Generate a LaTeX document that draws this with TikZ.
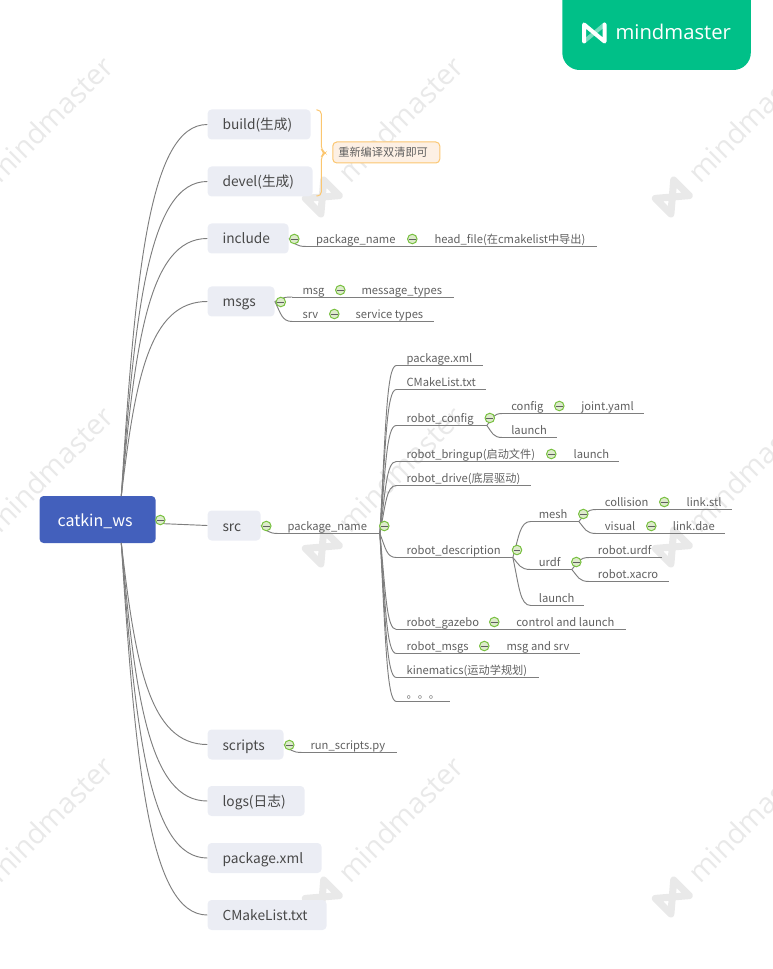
\documentclass[tikz,border=0pt]{standalone}
\usepackage{fontspec}
\usetikzlibrary{calc,decorations.pathreplacing}
\setmainfont{Noto Sans CJK SC}
\newfontfamily\wmfont{Open Sans}
\definecolor{rootblue}{HTML}{4360BC}
\definecolor{topfill}{HTML}{EBEDF4}
\definecolor{topink}{HTML}{484848}
\definecolor{leafink}{HTML}{606060}
\definecolor{linegray}{HTML}{7E7E7E}
\definecolor{wmgray}{HTML}{E9E9E9}
\definecolor{mmgreen}{HTML}{00C088}
\definecolor{notefill}{HTML}{FDF0E4}
\definecolor{noteline}{HTML}{FBC670}
\definecolor{colline}{HTML}{78C040}
\definecolor{colfill}{HTML}{DDEBCB}
\newdimen\mmpx \mmpx=0.75pt
\tikzset{
  conn/.style={draw=linegray,line width=0.7pt},
  topbox/.style={fill=topfill,rounded corners=3pt,inner sep=0pt,anchor=west,minimum height=30\mmpx,text height=16\mmpx,text depth=5\mmpx,text=topink,font=\fontsize{10.3pt}{12pt}\selectfont},
  leafbox/.style={inner sep=0pt,anchor=south west,text height=11\mmpx,text depth=2.6\mmpx,text=leafink,font=\fontsize{8.4pt}{10pt}\selectfont},
  collapse/.style={circle,draw=colline,fill=colfill,line width=0.75pt,inner sep=0pt,minimum size=9.5\mmpx,
    path picture={\draw[draw=leafink,line width=0.6pt] ([xshift=-2.6pt]path picture bounding box.center) -- ([xshift=2.6pt]path picture bounding box.center);}},
  wmtext/.style={text=wmgray,rotate=45,anchor=west,inner sep=0pt,font=\wmfont\fontsize{21.5pt}{24pt}\selectfont},
}
% a first-level box: name, right edge, centre y, text
\newcommand{\mmtop}[4]{%
  \pgfmathsetlengthmacro\mmw{(#2-208)*0.75pt}%
  \node[topbox,minimum width=\mmw] (#1) at (208,#3) {\makebox[\mmw][l]{\hspace*{15\mmpx}#4}};}
% an underlined leaf: name, line start, text start, line end, line y, text
\newcommand{\mmleaf}[6]{%
  \pgfmathsetlengthmacro\mmw{(#4-#2)*0.75pt}%
  \pgfmathsetlengthmacro\mmd{(#3-#2)*0.75pt}%
  \node[leafbox] (#1) at (#2,#5) {\makebox[\mmw][l]{\hspace*{\mmd}#6}};
  \draw[conn] (#1.south west) -- (#1.south east);}
% curved connector
\newcommand{\mmlink}[2]{%
  \draw[conn] let \p1=(#1), \p2=(#2) in (\p1) .. controls ({\x1+.35*(\x2-\x1)},{\y1+.6*(\y2-\y1)}) and ({\x1+.4*(\x2-\x1)},\y2) .. (\p2);}
\newcommand{\mmc}[3]{\node[collapse] (#1) at (#2,#3) {};}
\newcommand{\mmwater}[2]{%
  \begin{scope}[shift={(#1,#2)},rotate=45]
    \draw[wmgray,line width=5.3pt,line join=round,line cap=round] (-13,-11) -- (-13,11) -- (13,-11) -- (13,11) -- cycle;
  \end{scope}
  \node[wmtext] at (#1+20,#2-20) {mindmaster};}
\begin{document}
\begin{tikzpicture}[x=0.75pt,y=-0.75pt]
\useasboundingbox (0.7,0) rectangle (772.7,969);
\clip (0.7,0) rectangle (772.7,969);
% watermark
\foreach \wx in {-27,323,673}{\foreach \wy in {197,547,897}{\mmwater{\wx}{\wy}}}
% logo tab
\fill[mmgreen,rounded corners=13pt] (563,-30) rectangle (751.5,70);
\begin{scope}[shift={(595,33)}]
  \draw[white!45!mmgreen,line width=3pt] (-10.2,8.5) -- (10.2,-8.5);
  \draw[white,line width=3pt,line join=round,line cap=round] (-10.2,8.5) -- (-10.2,-8.5) -- (10.2,8.5) -- (10.2,-8.5);
\end{scope}
\node[text=white,anchor=west,inner sep=0pt,font=\wmfont\fontsize{15.2pt}{18pt}\selectfont] (brand) at (616,32) {mindmaster};
% root
\node[fill=rootblue,rounded corners=3pt,inner sep=0pt,minimum width=116\mmpx,minimum height=47\mmpx,text height=18\mmpx,text depth=5\mmpx,anchor=west,text=white,font=\fontsize{12pt}{14pt}\selectfont] (root) at (40,519.5) {\makebox[116\mmpx][l]{\hspace*{18\mmpx}catkin\_ws}};
\coordinate (rt) at (122,496);
\coordinate (rb) at (122,543);
% first level
\mmtop{build}{311}{124.5}{build(生成)}
\mmtop{devel}{313}{181.5}{devel(生成)}
\mmtop{incl}{289}{238.5}{include}
\mmtop{msgs}{275}{301.5}{msgs}
\mmtop{src}{261}{525.5}{src}
\mmtop{scripts}{284}{744.5}{scripts}
\mmtop{logs}{305}{801}{logs(日志)}
\mmtop{pkg}{322}{858}{package.xml}
\mmtop{cml}{327}{915}{CMakeList.txt}
\draw[conn] (rt) .. controls (136,273) and (150,124.5) .. (build.west);
\draw[conn] (rt) .. controls (136,307) and (150,181.5) .. (devel.west);
\draw[conn] (rt) .. controls (136,340) and (150,238.5) .. (incl.west);
\draw[conn] (rt) .. controls (136,378) and (150,301.5) .. (msgs.west);
\draw[conn] (rb) .. controls (136,664) and (150,744.5) .. (scripts.west);
\draw[conn] (rb) .. controls (136,698) and (150,801) .. (logs.west);
\draw[conn] (rb) .. controls (136,732) and (150,858) .. (pkg.west);
\draw[conn] (rb) .. controls (136,766) and (150,915) .. (cml.west);
% brace and note
\node[draw=noteline,fill=notefill,rounded corners=3pt,line width=0.75pt,inner sep=0pt,minimum width=107\mmpx,minimum height=21\mmpx,text height=13\mmpx,text depth=4\mmpx,anchor=west,text=leafink,font=\fontsize{8.4pt}{10pt}\selectfont] (note) at (333,152.5) {\makebox[107\mmpx][l]{\hspace*{5.5\mmpx}重新编译双清即可}};
\coordinate (bracetop) at (317,110);
\coordinate (bracebot) at (317,196);
\draw[noteline,line width=0.75pt,rounded corners=3pt] (bracetop) -- (322,110) -- (322,150) -- (326,153) -- (322,156) -- (322,196) -- (bracebot);
% include
\mmleaf{pname}{307}{316.5}{405}{246.5}{package\_name}
\mmleaf{hfile}{421}{435}{597}{246.5}{head\_file(在cmakelist中导出)}
\mmlink{incl.east}{pname.south west}
\draw[conn] (pname.south east) -- (hfile.south west);
% msgs
\mmleaf{msg}{293}{303}{332}{297}{msg}
\mmleaf{mtypes}{350}{362}{454}{297}{message\_types}
\mmleaf{srv}{293}{303}{326}{321.5}{srv}
\mmleaf{stypes}{344}{356}{434}{321.5}{service types}
\mmlink{msgs.east}{msg.south west}
\mmlink{msgs.east}{srv.south west}
\draw[conn] (msg.south east) -- (mtypes.south west);
\draw[conn] (srv.south east) -- (stypes.south west);
% src
\mmleaf{srcpkg}{279}{288}{380}{533.5}{package\_name}
\mmlink{src.east}{srcpkg.south west}
\mmleaf{a1}{397}{407}{483}{365.5}{package.xml}
\mmleaf{a2}{397}{407}{486}{389.5}{CMakeList.txt}
\mmleaf{a3}{397}{407}{487}{425.5}{robot\_config}
\mmleaf{a4}{397}{407}{543}{461.5}{robot\_bringup(启动文件)}
\mmleaf{a5}{397}{407}{531}{485.5}{robot\_drive(底层驱动)}
\mmleaf{a6}{397}{407}{513}{557.5}{robot\_description}
\mmleaf{a7}{397}{407}{486}{629.5}{robot\_gazebo}
\mmleaf{a8}{397}{407}{476}{653.5}{robot\_msgs}
\mmleaf{a9}{397}{407}{539}{677.5}{kinematics(运动学规划)}
\mmleaf{a10}{397}{407}{450}{701.5}{。。。}
\foreach \k in {1,...,10}{\mmlink{srcpkg.south east}{a\k.south west}}
% robot_config
\mmleaf{cfg}{503}{511.7}{551}{413.5}{config}
\mmleaf{joint}{569}{581.7}{644}{413.5}{joint.yaml}
\mmleaf{lnch}{503}{511.7}{557}{437.5}{launch}
\mmlink{a3.south east}{cfg.south west}
\mmlink{a3.south east}{lnch.south west}
\draw[conn] (cfg.south east) -- (joint.south west);
% bringup
\mmleaf{blnch}{561}{574}{619}{461.5}{launch}
\draw[conn] (a4.south east) -- (blnch.south west);
% description
\mmleaf{mesh}{531.5}{539.3}{579}{521.5}{mesh}
\mmleaf{urdf}{531.5}{539.3}{572}{569.5}{urdf}
\mmleaf{dlnch}{531.5}{539.3}{584}{605.5}{launch}
\mmlink{a6.south east}{mesh.south west}
\mmlink{a6.south east}{urdf.south west}
\mmlink{a6.south east}{dlnch.south west}
\mmleaf{coll}{597}{605.3}{656}{509.5}{collision}
\mmleaf{lstl}{674}{687}{732}{509.5}{link.stl}
\mmleaf{vis}{597}{605.3}{643}{533.5}{visual}
\mmleaf{ldae}{661}{673.3}{725.5}{533.5}{link.dae}
\mmlink{mesh.south east}{coll.south west}
\mmlink{mesh.south east}{vis.south west}
\draw[conn] (coll.south east) -- (lstl.south west);
\draw[conn] (vis.south east) -- (ldae.south west);
\mmleaf{rurdf}{590}{598.3}{662.5}{557.5}{robot.urdf}
\mmleaf{rxac}{590}{598.3}{669}{581.5}{robot.xacro}
\mmlink{urdf.south east}{rurdf.south west}
\mmlink{urdf.south east}{rxac.south west}
% gazebo and msgs
\mmleaf{gz}{504}{516.7}{626}{629.5}{control and launch}
\draw[conn] (a7.south east) -- (gz.south west);
\mmleaf{ms}{494}{507}{580}{653.5}{msg and srv}
\draw[conn] (a8.south east) -- (ms.south west);
% scripts
\mmleaf{run}{303}{311}{397}{752.5}{run\_scripts.py}
\mmlink{scripts.east}{run.south west}
% collapse marks
\mmc{c0}{161}{520}
\draw[conn] (c0.south east) -- (src.west);
\mmc{c1}{295}{239}
\mmc{c2}{413}{239}
\mmc{c3}{281.5}{302}
\mmc{c4}{341}{290}
\mmc{c5}{335}{314}
\mmc{c6}{267}{526}
\mmc{c7}{385}{526}
\mmc{c8}{490.5}{418}
\mmc{c9}{560}{406}
\mmc{c10}{552}{454}
\mmc{c11}{517.7}{550}
\mmc{c12}{584}{514}
\mmc{c13}{665}{502}
\mmc{c14}{652}{526}
\mmc{c15}{577}{562}
\mmc{c16}{495}{622}
\mmc{c17}{485}{646}
\mmc{c18}{290}{745}
\end{tikzpicture}
\end{document}
